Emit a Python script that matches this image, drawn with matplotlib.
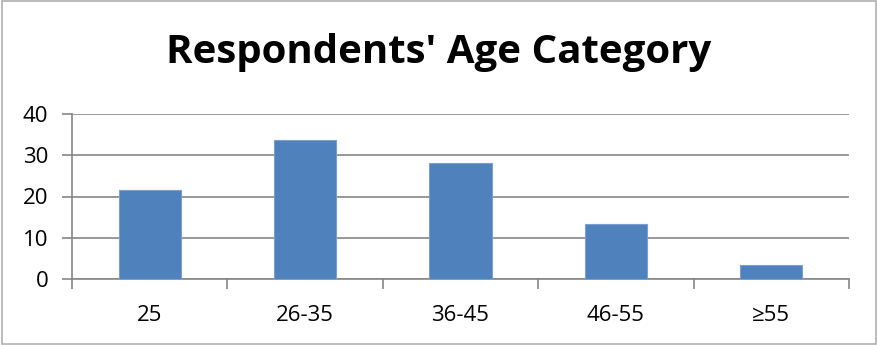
import matplotlib.pyplot as plt
from matplotlib.patches import Rectangle

# Age groups and respondent counts (%)
categories = ["25", "26-35", "36-45", "46-55", "≥55"]
values = [21.6, 33.7, 28.2, 13.3, 3.3]
yticks = [0, 10, 20, 30, 40]

plt.rcParams["font.family"] = ["Open Sans", "DejaVu Sans"]

fig = plt.figure(figsize=(8.78, 3.45), dpi=100)
ax = fig.add_axes([72 / 878, 1 - 279 / 345, 777 / 878, 165 / 345])

grey = "#868686"
x = list(range(len(categories)))
ax.bar(x, values, width=0.4, color="#4f81bd", edgecolor="#7ba0cf", linewidth=0.8, zorder=3)

ax.set_xlim(-0.5, len(categories) - 0.5)
ax.set_ylim(0, 40)
ax.set_yticks(yticks)
ax.yaxis.grid(True, color=grey, linewidth=1.2, zorder=0)

ax.set_xticks(x)
ax.set_xticklabels(categories, fontsize=16)
ax.set_xticks([i - 0.5 for i in range(len(categories) + 1)], minor=True)
ax.tick_params(axis="x", which="major", length=0, pad=19)
ax.tick_params(axis="x", which="minor", length=7, width=1.2, color=grey, direction="out")
ax.tick_params(axis="y", length=7, width=1.2, color=grey, labelsize=16, pad=10)

for side in ["top", "right"]:
    ax.spines[side].set_visible(False)
for side in ["left", "bottom"]:
    ax.spines[side].set_color(grey)
    ax.spines[side].set_linewidth(1.2)

fig.text(0.5, 1 - 53 / 345, "Respondents' Age Category", ha="center", va="center",
         fontsize=29, fontweight="bold")

# Outer chart frame
fig.patches.append(Rectangle((0.002, 0.004), 0.996, 0.992, transform=fig.transFigure,
                             fill=False, edgecolor="#b0b0b0", linewidth=1.2))

fig.savefig("out.png", dpi=100)
